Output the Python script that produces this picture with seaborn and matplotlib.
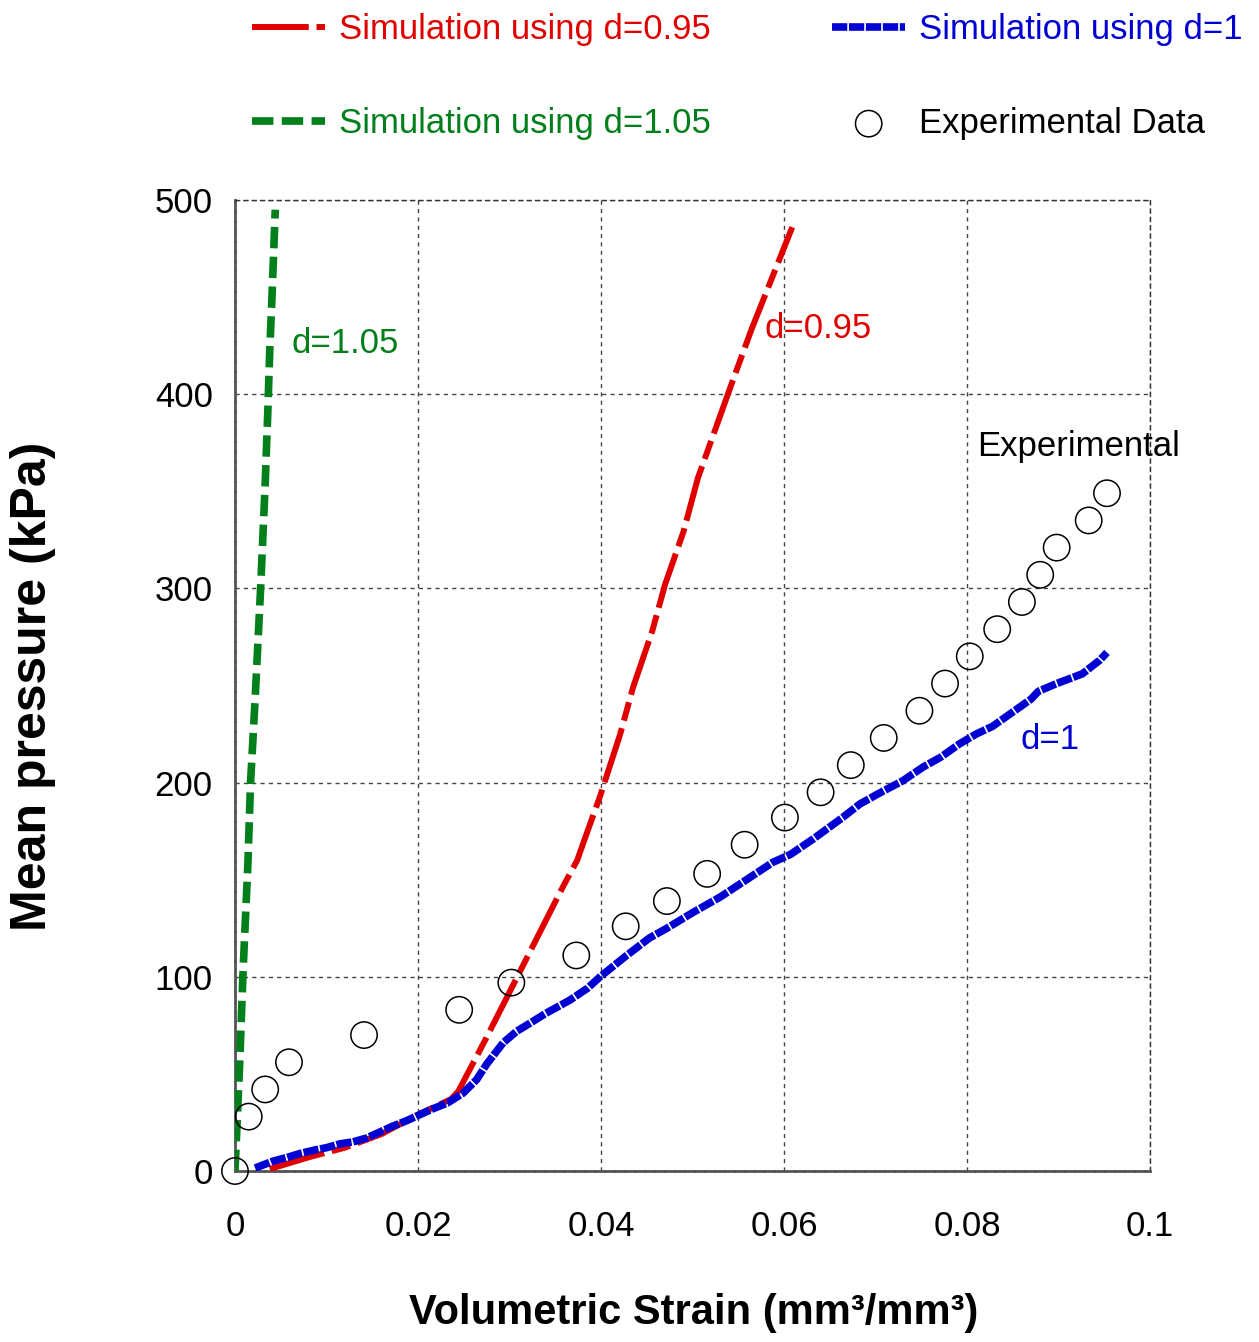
import numpy as np
import pandas as pd
import matplotlib
matplotlib.use("Agg")
import matplotlib.pyplot as plt
import seaborn as sns

# Volumetric strain (mm3/mm3) vs mean pressure (kPa)
exp_strain = [0.0, 0.0015, 0.0033, 0.0059, 0.0141, 0.0245, 0.0302, 0.0373, 0.0427,
              0.0472, 0.0516, 0.0557, 0.0601, 0.0640, 0.0673, 0.0709, 0.0748, 0.0776,
              0.0803, 0.0833, 0.0860, 0.0880, 0.0898, 0.0933, 0.0953]
exp_pressure = [0, 28, 42, 56, 70, 83, 97, 111, 126, 139, 153, 168, 182, 195, 209,
                223, 237, 251, 265, 279, 293, 307, 321, 335, 349]

sim095_strain = [0.0038, 0.0080, 0.0120, 0.0160, 0.0200, 0.0236, 0.0244, 0.0273,
                 0.0301, 0.0330, 0.0358, 0.0374, 0.0383, 0.0399, 0.0421, 0.0435,
                 0.0456, 0.0470, 0.0490, 0.0506, 0.0525, 0.0544, 0.0565, 0.0587, 0.0609]
sim095_pressure = [1, 7, 12, 19, 29, 37, 41, 67, 93, 120, 146, 160, 172, 193, 225,
                   249, 278, 302, 329, 357, 382, 407, 434, 460, 486]

sim1_strain = [0.0022, 0.0041, 0.0057, 0.0071, 0.0089, 0.0100, 0.0115, 0.0129, 0.0144,
               0.0158, 0.0172, 0.0188, 0.0202, 0.0216, 0.0232, 0.0249, 0.0264, 0.0275,
               0.0293, 0.0308, 0.0322, 0.0339, 0.0366, 0.0385, 0.0399, 0.0428, 0.0453,
               0.0472, 0.0500, 0.0530, 0.0559, 0.0588, 0.0607, 0.0632, 0.0664, 0.0683,
               0.0702, 0.0730, 0.0752, 0.0771, 0.0792, 0.0810, 0.0828, 0.0852, 0.0870,
               0.0878, 0.0898, 0.0926, 0.0945, 0.0953]
sim1_pressure = [1.5, 5, 7, 9, 11, 12, 14, 15, 17, 20, 23, 26, 29, 32, 35, 40, 47, 55,
                 66, 72, 76, 81, 88, 94, 100, 111, 120, 125, 133, 141, 150, 159, 163,
                 171, 182, 189, 194, 201, 208, 213, 220, 225, 229, 237, 243, 247, 251,
                 256, 263, 267]

sim105_strain = [0.0, 0.0005, 0.0009, 0.0014, 0.0017, 0.0022, 0.0028, 0.0033, 0.0036,
                 0.0038, 0.0040, 0.0044]
sim105_pressure = [0, 54, 105, 157, 200, 243, 300, 354, 393, 423, 445, 495]

x_ticks = [0, 0.02, 0.04, 0.06, 0.08, 0.1]
x_tick_labels = ["0", "0.02", "0.04", "0.06", "0.08", "0.1"]
y_ticks = [0, 100, 200, 300, 400, 500]

RED = "#E00000"
BLUE = "#0000D2"
GREEN = "#007F1A"

sns.set_theme(style="white")
plt.rcParams["font.family"] = ["Liberation Sans", "DejaVu Sans"]

fig = plt.figure(figsize=(12.59, 13.42), dpi=100)
ax = fig.add_axes([235 / 1259, 1 - 1171 / 1342, 915 / 1259, 971 / 1342])

sns.lineplot(x=sim095_strain, y=sim095_pressure, ax=ax, color=RED,
             linewidth=4.3, estimator=None, sort=False,
             linestyle=(0, (9.5, 1.3, 3.2, 1.3)), zorder=3,
             label="Simulation using d=0.95")
sns.lineplot(x=sim1_strain, y=sim1_pressure, ax=ax, color=BLUE, linewidth=5.5,
             estimator=None, sort=False, linestyle=(0, (2.0, 0.22)), zorder=4,
             label="Simulation using d=1")
sns.lineplot(x=sim105_strain, y=sim105_pressure, ax=ax, color=GREEN, linewidth=5.5,
             estimator=None, sort=False, linestyle=(0, (2.8, 1.1)), zorder=4,
             label="Simulation using d=1.05")
sns.scatterplot(x=exp_strain, y=exp_pressure, ax=ax, s=360, marker="o",
                facecolor="none", edgecolor="black", linewidth=1.1, zorder=5,
                clip_on=False, label="Experimental Data")

ax.set_xlim(0, 0.1)
ax.set_ylim(0, 500)
ax.set_xticks(x_ticks)
ax.set_xticklabels(x_tick_labels)
ax.set_yticks(y_ticks)

ax.grid(True, color="#444444", linestyle=(0, (3, 3)), linewidth=1.0)
ax.set_axisbelow(True)
for side in ["top", "right"]:
    ax.spines[side].set_color("#333333")
    ax.spines[side].set_linewidth(1.0)
    ax.spines[side].set_linestyle((0, (3, 3)))
for side in ["left", "bottom"]:
    ax.spines[side].set_color("#555555")
    ax.spines[side].set_linewidth(2.0)
    ax.spines[side].set_linestyle((0, (3, 0.6)))

ax.tick_params(axis="both", direction="in", length=7, width=1.5, color="black",
               labelsize=25, labelcolor="black")
ax.tick_params(axis="x", pad=28)
ax.tick_params(axis="y", pad=16)

ax.set_xlabel("Volumetric Strain (mm\u00b3/mm\u00b3)", fontsize=30, fontweight="bold",
              color="black")
ax.xaxis.label.set_va("center")
ax.xaxis.set_label_coords((694 - 235) / 915, (1171 - 1313) / 971)
ax.set_ylabel("Mean pressure (kPa)", fontsize=36, fontweight="bold", color="black")
ax.yaxis.label.set_va("center")
ax.yaxis.set_label_coords((33 - 235) / 915, (1171 - 686) / 971)

# Curve annotations
ax.text(0.0062, 426, "d=1.05", color=GREEN, fontsize=25, va="center", ha="left")
ax.text(0.0579, 434, "d=0.95", color=RED, fontsize=25, va="center", ha="left")
ax.text(0.0811, 373, "Experimental", color="black", fontsize=25, va="center", ha="left")
ax.text(0.0859, 222, "d=1", color=BLUE, fontsize=25, va="center", ha="left")

# Legend above the axes, two columns
handles, labels = ax.get_legend_handles_labels()
ax.get_legend().remove()
order = [0, 2, 1, 3]
handles = [handles[i] for i in order]
labels = [labels[i] for i in order]
fig.legend(handles, labels, loc="upper left",
           bbox_to_anchor=(252 / 1259, 1 - 13 / 1342), ncol=2, frameon=False,
           fontsize=25, handlelength=2.1, handletextpad=0.4, columnspacing=3.5,
           labelspacing=1.75, borderpad=0, borderaxespad=0,
           labelcolor=[RED, GREEN, BLUE, "black"])

fig.savefig("out.png", dpi=100)
